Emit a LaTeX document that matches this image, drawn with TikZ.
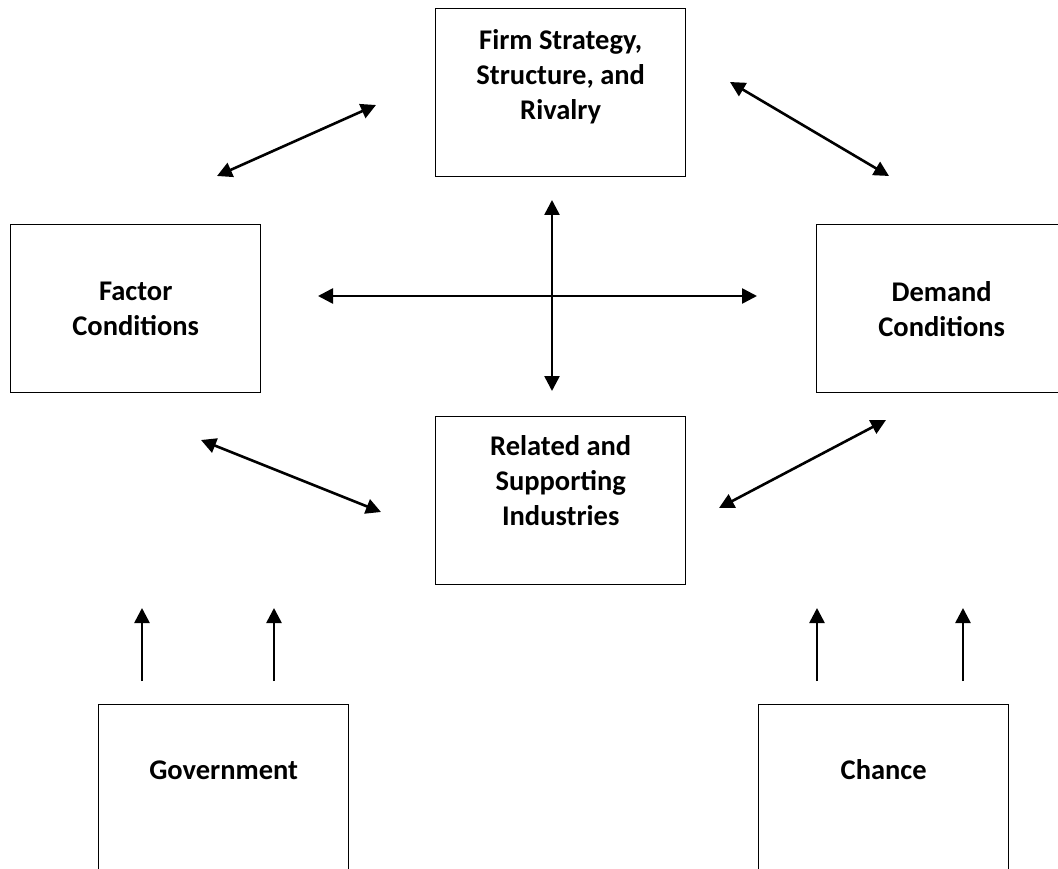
\documentclass[tikz,border=0pt]{standalone}
\usepackage{fontspec}
\setmainfont{Carlito}
\usetikzlibrary{arrows.meta}

\begin{document}
\begin{tikzpicture}[
  x=1pt, y=-1pt,
  font=\fontsize{28.5}{35}\selectfont\bfseries,
  box/.style={draw, line width=1.4pt, minimum width=250pt, minimum height=168pt, anchor=north west, inner sep=0pt},
  lbl/.style={align=center, inner sep=0pt},
  dar/.style={{Triangle[length=15pt, width=15pt]}-{Triangle[length=15pt, width=15pt]}, line width=2.6pt},
  uar/.style={-{Triangle[length=15pt, width=15pt]}, line width=2.6pt}
]
\useasboundingbox (0,0) rectangle (1058,869);
\clip (0,0) rectangle (1058,869);

% The diamond of four determinants
\node[box] (firm)    at (435,8)   {};
\node[box] (factor)  at (10,224)  {};
\node[box] (demand)  at (816,224) {};
\node[box] (related) at (435,416) {};

% Outside influences (boxes run off the bottom edge)
\node[box, minimum height=220pt] (gov)    at (98,704)  {};
\node[box, minimum height=220pt] (chance) at (758,704) {};

% Box labels
\node[lbl] (firm-lbl)    at ([yshift=16pt]firm.center)    {Firm Strategy,\\Structure, and\\Rivalry};
\node[lbl] (factor-lbl)  at (factor.center)               {Factor\\Conditions};
\node[lbl] (demand-lbl)  at (demand.center)               {Demand\\Conditions};
\node[lbl] (related-lbl) at ([yshift=20pt]related.center) {Related and\\Supporting\\Industries};
\node[lbl] (gov-lbl)     at (gov.north |- 0,770)          {Government};
\node[lbl] (chance-lbl)  at (chance.north |- 0,770)       {Chance};

% Free ends of the two-way arrows
\coordinate (tl-a) at (217,176);  \coordinate (tl-b) at (376,105);
\coordinate (tr-a) at (730,82);   \coordinate (tr-b) at (889,176);
\coordinate (h-a)  at (318,296);  \coordinate (h-b)  at (757,296);
\coordinate (v-a)  at (552,200);  \coordinate (v-b)  at (552,391);
\coordinate (bl-a) at (201,440);  \coordinate (bl-b) at (381,512);
\coordinate (br-a) at (719,508);  \coordinate (br-b) at (886,420);

\draw[dar] (tl-a) -- (tl-b);
\draw[dar] (tr-a) -- (tr-b);
\draw[dar] (h-a)  -- (h-b);
\draw[dar] (v-a)  -- (v-b);
\draw[dar] (bl-a) -- (bl-b);
\draw[dar] (br-a) -- (br-b);

% Government and chance push upwards
\foreach \x/\n in {142/g1, 274/g2, 817/c1, 963/c2} {
  \coordinate (\n-foot) at (\x,681);
  \coordinate (\n-tip)  at (\x,608);
  \draw[uar] (\n-foot) -- (\n-tip);
}

\end{tikzpicture}
\end{document}
